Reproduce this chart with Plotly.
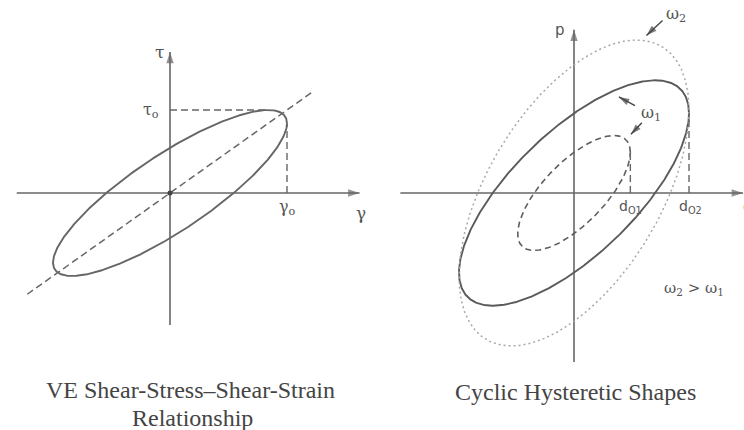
import numpy as np
import plotly.graph_objects as go

# Viscoelastic loop (left): strain amplitude, stress amplitude, phase lag (deg)
ve_amplitudes = [1.0, 1.0]          # gamma_o, tau_o
ve_phase_deg = 33

# Cyclic hysteretic loops (right): displacement amp, force amp, phase lag (deg)
loop_names = ["omega1, d_O1", "omega1, d_O2", "omega2, d_O2"]
loop_disp = [0.49, 1.00, 1.00]
loop_force = [0.50, 0.98, 1.33]
loop_phase_deg = [45, 45, 57]
loop_dash = ["6px,4px", "solid", "2px,3px"]
loop_color = ["#5e5e5e", "#5a5a5a", "#a8a8a8"]
loop_width = [1.6, 1.9, 1.5]

LINE = "#666666"
TEXT = "#555555"
DASH = "7px,4px"

t = np.linspace(0, 2 * np.pi, 600)


def loop(a, b, phase_deg):
    d = np.deg2rad(phase_deg)
    return a * np.cos(t), b * np.cos(t - d)


fig = go.Figure()


def seg(xs, ys, ax, color=LINE, width=1.4, dash="solid"):
    fig.add_trace(go.Scatter(x=xs, y=ys, mode="lines",
                             line=dict(color=color, width=width, dash=dash),
                             xaxis="x" + ax, yaxis="y" + ax, hoverinfo="skip"))


def arrow(x0, y0, x1, y1, ax, color=LINE, width=1.6, head=12):
    seg([x0, x1], [y0, y1], ax, color=color, width=width)
    fig.add_trace(go.Scatter(x=[x0, x1], y=[y0, y1], mode="markers",
                             marker=dict(symbol=["circle", "arrow"], angleref="previous",
                                         size=[0, head], color=color,
                                         line=dict(width=0)),
                             xaxis="x" + ax, yaxis="y" + ax, hoverinfo="skip"))


# ---- left panel ----
g0, t0 = ve_amplitudes
gx, ty = loop(g0, t0, ve_phase_deg)
dl = np.deg2rad(ve_phase_deg)
arrow(-1.31, 0, 1.62, 0, "")
arrow(0, -1.59, 0, 1.70, "")
seg([-1.22, 1.23], [-1.22 * t0 / g0, 1.23 * t0 / g0], "", width=1.5, dash=DASH)
seg([0, g0 * np.cos(dl)], [t0, t0], "", dash=DASH)
seg([g0, g0], [0, t0 * np.cos(dl)], "", dash=DASH)
seg(gx, ty, "", width=1.9)
fig.add_trace(go.Scatter(x=[0], y=[0], mode="markers", marker=dict(color="#444", size=5),
                         xaxis="x", yaxis="y", hoverinfo="skip"))

# ---- right panel ----
arrow(-1.51, 0, 1.47, 0, "2")
arrow(0, -1.47, 0, 1.42, "2")
for a, b, ph, dsh, col, w in zip(loop_disp, loop_force, loop_phase_deg,
                                  loop_dash, loop_color, loop_width):
    lx, ly = loop(a, b, ph)
    seg(lx, ly, "2", color=col, width=w, dash=dsh)
for a, b, ph in zip(loop_disp[:2], loop_force[:2], loop_phase_deg[:2]):
    seg([a, a], [0, b * np.cos(np.deg2rad(ph))], "2", dash=DASH)

# frequency pointers
arrow(0.77, 1.50, 0.63, 1.37, "2", color="#444", width=1.4, head=11)
arrow(0.53, 0.76, 0.39, 0.835, "2", color="#444", width=1.4, head=11)
arrow(0.59, 0.61, 0.495, 0.51, "2", color="#444", width=1.4, head=11)

ann = []


def label(xref, yref, x, y, text, size=16, family="DejaVu Serif", xanchor="center"):
    ann.append(dict(x=x, y=y, xref=xref, yref=yref, text=text, showarrow=False,
                    xanchor=xanchor, yanchor="middle",
                    font=dict(family=family, size=size, color=TEXT)))


label("x", "y", -0.09, 1.70, "τ", 17)
label("x", "y", -0.16, 1.0, "τ<sub>o</sub>", 16)
label("x", "y", 1.63, -0.24, "γ", 17)
label("x", "y", 1.0, -0.17, "γ<sub>o</sub>", 16)

label("x2", "y2", -0.12, 1.42, "p", 15, "DejaVu Sans")
label("x2", "y2", 1.45, -0.12, "d", 15, "DejaVu Sans", xanchor="left")
label("x2", "y2", 0.49, -0.12, "d<sub>O1</sub>", 14, "DejaVu Sans")
label("x2", "y2", 1.01, -0.12, "d<sub>O2</sub>", 14, "DejaVu Sans")
label("x2", "y2", 0.89, 1.55, "ω<sub>2</sub>", 16)
label("x2", "y2", 0.67, 0.69, "ω<sub>1</sub>", 16)
label("x2", "y2", 1.04, -0.83, "ω<sub>2</sub> > ω<sub>1</sub>", 15)

# panel captions
cap = dict(family="Liberation Serif", size=24, color="#444444")
ann.append(dict(x=190 / 744, y=1 - 390 / 430, xref="paper", yref="paper",
                text="VE Shear-Stress–Shear-Strain", showarrow=False,
                xanchor="center", yanchor="middle", font=cap))
ann.append(dict(x=192 / 744, y=1 - 418 / 430, xref="paper", yref="paper",
                text="Relationship", showarrow=False,
                xanchor="center", yanchor="middle", font=cap))
ann.append(dict(x=575 / 744, y=1 - 392 / 430, xref="paper", yref="paper",
                text="Cyclic Hysteretic Shapes", showarrow=False,
                xanchor="center", yanchor="middle", font=cap))

hidden = dict(visible=False, showgrid=False, zeroline=False, fixedrange=True)
fig.update_layout(
    width=744, height=430, margin=dict(l=0, r=0, t=0, b=0),
    paper_bgcolor="white", plot_bgcolor="white", showlegend=False,
    xaxis=dict(domain=[0, 0.5], range=[-170 / 117, 202 / 117], **hidden),
    yaxis=dict(domain=[0, 1], range=[-237 / 83, 193 / 83], **hidden),
    xaxis2=dict(domain=[0.5, 1], range=[-202 / 115, 170 / 115], **hidden),
    yaxis2=dict(domain=[0, 1], range=[-237 / 115, 193 / 115], **hidden),
    annotations=ann,
)

fig.write_html("out.html")
